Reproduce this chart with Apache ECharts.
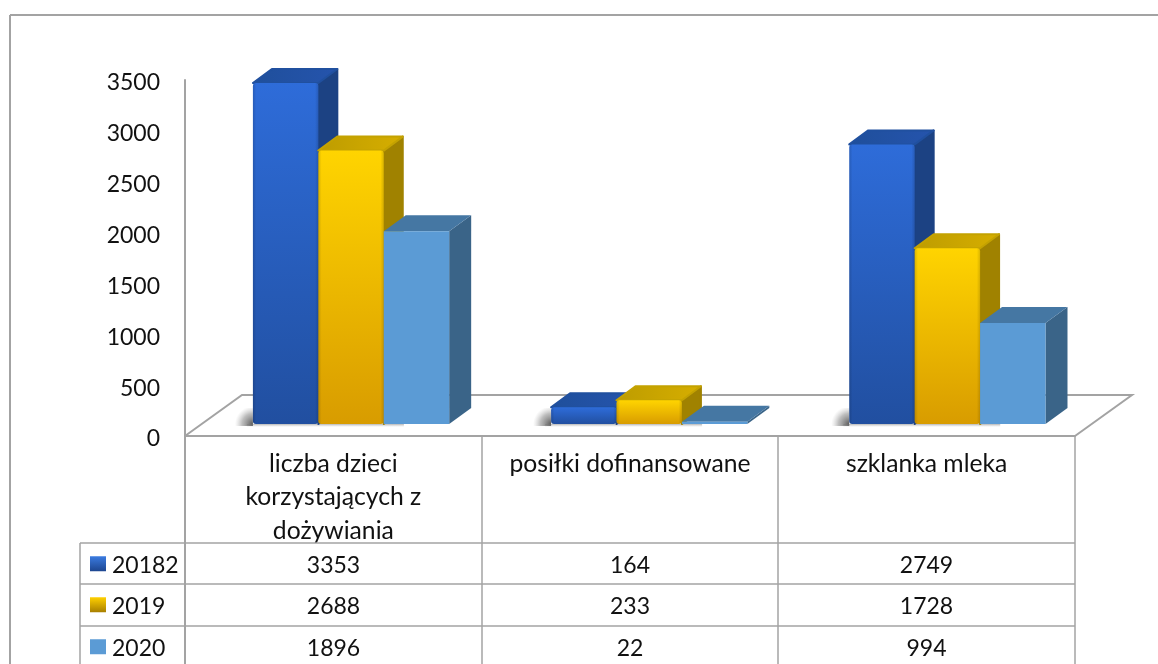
<!DOCTYPE html>
<html>
<head>
<meta charset="utf-8">
<style>html,body{margin:0;padding:0;background:#fff}#c{width:1158px;height:664px}</style>
<script src="https://cdn.jsdelivr.net/npm/echarts@6/dist/echarts.min.js"></script>
</head>
<body>
<div id="c"></div>
<script>
const categories = ['liczba dzieci\nkorzystających z\ndożywiania', 'posiłki dofinansowane', 'szklanka mleka'];
const seriesNames = ['20182', '2019', '2020'];
const values2018 = [3353, 164, 2749];
const values2019 = [2688, 233, 1728];
const values2020 = [1896, 22, 994];
const yTicks = { min: 0, max: 3500, interval: 500 };

const FONT = 'Lato';
const LINE = '#a3a3a3';
const G = { left: 185, right: 83, top: 80, bottom: 228 };
const LIFT = 12;
const rows = [543, 584, 626], rowH = 41.5;
const cols = [80, 185, 482, 778, 1075];

const v = (a, b) => ({ type: 'linear', x: 0, y: 0, x2: 0, y2: 1, colorStops: [{ offset: 0, color: a }, { offset: 1, color: b }] });
const h = (a, b) => ({ type: 'linear', x: 0, y: 0, x2: 1, y2: 0, colorStops: [{ offset: 0, color: a }, { offset: 1, color: b }] });

const looks = [
  { front: v('#2e6cd9', '#214fa0'), side: '#1c4283', top: h('#1f4f9b', '#2554ad'), topEdge: '#20509f', bevel: true, dx: 19, dy: 14, sw: ['#3b7be0', '#1d4690'] },
  { front: v('#ffd400', '#d89c00'), side: '#a08200', top: h('#bd9c00', '#d6ae00'), topEdge: '#c4a200', bevel: true, dx: 19, dy: 14, sw: ['#ffd000', '#a87f00'] },
  { front: '#5b9bd5', side: '#3a6488', top: '#4577a3', bevel: false, dx: 22, dy: 16, sw: ['#5b9bd5', '#5b9bd5'] }
];

function barItem(idx) {
  return function (params, api) {
    const cat = api.value(0), val = api.value(1);
    const band = api.size([1, 0])[0];
    const w = band * 0.2205;
    const c0 = api.coord([cat, 0]), c1 = api.coord([cat, val]);
    const left = c0[0] - band * 0.266 + (cat - 1) * 1.5 + idx * w;
    const base = c0[1] - LIFT, top = c1[1] - LIFT, right = left + w;
    const look = looks[idx];
    const DX = look.dx, DY = look.dy;
    const kids = [];
    if (idx === 0) {
      kids.push({ type: 'rect', silent: true, shape: { x: left - 21, y: base - 16, width: 21, height: 18 },
        style: { fill: { type: 'radial', x: 1, y: 0.9, r: 1, colorStops: [
          { offset: 0, color: 'rgba(60,60,60,0.85)' }, { offset: 0.6, color: 'rgba(110,110,110,0.45)' }, { offset: 1, color: 'rgba(160,160,160,0)' }] } } });
      kids.push({ type: 'rect', silent: true, shape: { x: left - 6, y: base, width: w * 2.4, height: 3 },
        style: { fill: v('rgba(110,110,110,0.5)', 'rgba(160,160,160,0)') } });
    }
    const edge = (c) => look.bevel ? { stroke: c, lineWidth: 2, lineJoin: 'round' } : {};
    kids.push({ type: 'polygon', shape: { points: [[right, base], [right + DX, base - DY], [right + DX, top - DY], [right, top]] },
      style: Object.assign({ fill: look.side }, edge(look.side)) });
    kids.push({ type: 'polygon', shape: { points: [[left, top], [left + DX, top - DY], [right + DX, top - DY], [right, top]] },
      style: Object.assign({ fill: look.top }, edge(look.topEdge)) });
    kids.push({ type: 'rect', shape: { x: left, y: top, width: w, height: base - top, r: look.bevel ? 3 : 0 }, style: { fill: look.front } });
    if (look.bevel) {
      kids.push({ type: 'rect', silent: true, shape: { x: left, y: top, width: w, height: base - top, r: 3 },
        style: { fill: { type: 'linear', x: 0, y: 0, x2: 1, y2: 0, colorStops: [
          { offset: 0, color: 'rgba(0,0,0,0.14)' }, { offset: 0.05, color: 'rgba(0,0,0,0)' },
          { offset: 0.95, color: 'rgba(0,0,0,0)' }, { offset: 1, color: 'rgba(0,0,0,0.14)' }] } } });
    }
    return { type: 'group', children: kids };
  };
}

const allValues = [values2018, values2019, values2020];
const line = (x1, y1, x2, y2, lw) => ({ type: 'line', z: 1, silent: true, shape: { x1, y1, x2, y2 }, style: { stroke: LINE, lineWidth: lw || 1.5 } });
const txt = (x, y, text, align) => ({ type: 'text', z: 3, silent: true, x, y, style: { text, fill: '#111', font: '23px ' + FONT, align: align || 'center', verticalAlign: 'middle' } });

const graphics = [
  line(10, 15, 1158, 15, 2), line(10, 15, 10, 664, 2),
  { type: 'polyline', z: 1, silent: true, shape: { points: [[185, 436], [242, 395], [1132, 395], [1075, 436]] }, style: { fill: 'none', stroke: LINE, lineWidth: 2 } },
  line(185, 436, 185, 664, 2), line(482, 436, 482, 664), line(778, 436, 778, 664), line(1075, 436, 1075, 664),
  line(80, rows[0], 80, 664)
];
rows.forEach((y, r) => {
  graphics.push(line(80, y, 1075, y));
  const mid = y + rowH / 2 + 1.5;
  graphics.push({ type: 'rect', z: 3, silent: true, shape: { x: 90, y: mid - 9, width: 16, height: 15 },
    style: { fill: v(looks[r].sw[0], looks[r].sw[1]) } });
  graphics.push(txt(112, mid, seriesNames[r], 'left'));
  allValues[r].forEach((val, c) => {
    graphics.push(txt((cols[c + 1] + cols[c + 2]) / 2, mid, String(val)));
  });
});

const chart = echarts.init(document.getElementById('c'), null, { renderer: 'canvas' });
chart.setOption({
  animation: false,
  backgroundColor: '#fff',
  grid: G,
  xAxis: {
    type: 'category', data: categories,
    axisLine: { show: true, lineStyle: { color: LINE, width: 2 } },
    axisTick: { show: false },
    axisLabel: { color: '#111', fontFamily: FONT, fontSize: 24.7, lineHeight: 33.5, margin: 11, interval: 0, verticalAlign: 'top' }
  },
  yAxis: {
    type: 'value', min: yTicks.min, max: yTicks.max, interval: yTicks.interval,
    axisLine: { show: true, lineStyle: { color: LINE, width: 2 } },
    axisTick: { show: false },
    splitLine: { show: false },
    axisLabel: { color: '#111', fontFamily: FONT, fontSize: 23, margin: 25, verticalAlign: 'top', lineHeight: 6, formatter: (val) => String(val) }
  },
  graphic: graphics,
  series: allValues.map((vals, i) => ({
    type: 'custom', name: seriesNames[i], z: 5, clip: false,
    renderItem: barItem(i),
    encode: { x: 0, y: 1 },
    data: vals.map((val, c) => [c, val])
  }))
});
</script>
</body>
</html>
